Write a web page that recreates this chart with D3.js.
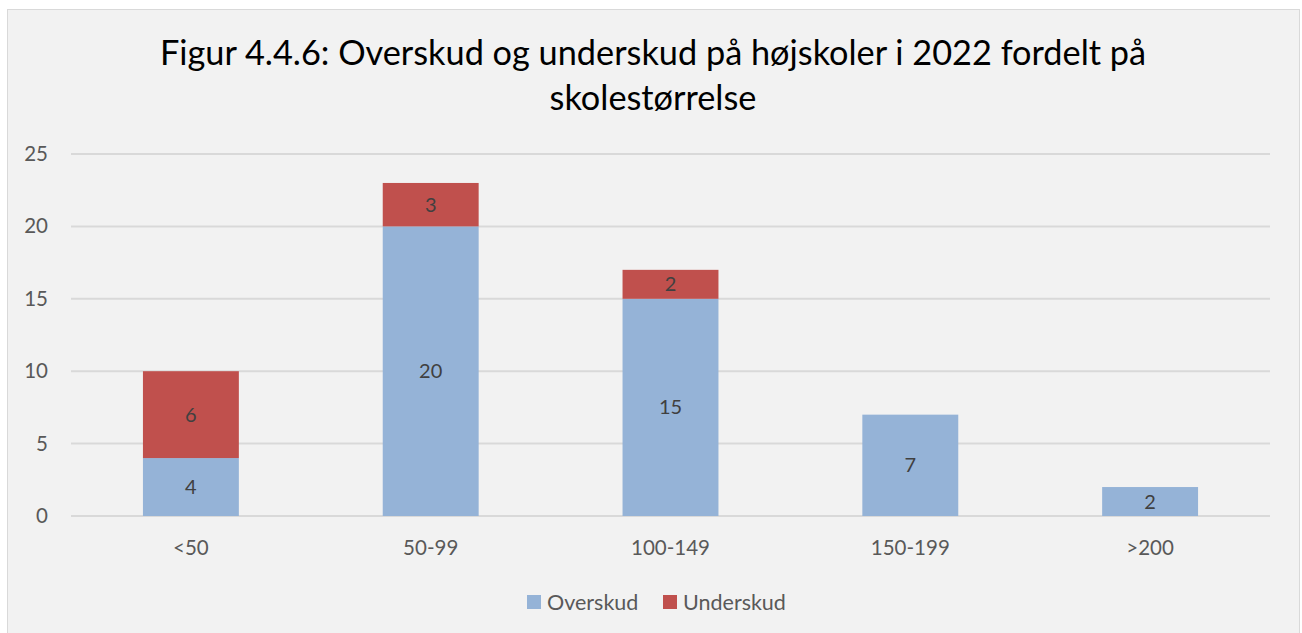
<!DOCTYPE html>
<html>
<head>
<meta charset="utf-8">
<script src="https://cdn.jsdelivr.net/npm/d3@7"></script>
<style>
  html, body { margin: 0; padding: 0; background: #ffffff; }
  svg { display: block; }
</style>
</head>
<body>
<svg id="chart" width="1302" height="633"></svg>
<script>
// Data
const categories = ["<50", "50-99", "100-149", "150-199", ">200"];
const overskud = [4, 20, 15, 7, 2];
const underskud = [6, 3, 2, 0, 0];
const seriesNames = ["Overskud", "Underskud"];
const yTicks = [0, 5, 10, 15, 20, 25];
const titleLines = ["Figur 4.4.6: Overskud og underskud på højskoler i 2022 fordelt på", "skolestørrelse"];

const colors = { Overskud: "#95b3d7", Underskud: "#c0504d" };
const font = "Lato, 'Open Sans', sans-serif";

const svg = d3.select("#chart");

// Chart frame
svg.append("rect")
  .attr("x", 7.5).attr("y", 9.5)
  .attr("width", 1292).attr("height", 630)
  .attr("fill", "#f2f2f2")
  .attr("stroke", "#d9d9d9").attr("stroke-width", 1);

// Title
svg.append("text")
  .attr("x", 653).attr("y", 65)
  .attr("text-anchor", "middle")
  .attr("font-family", font).attr("font-size", 34.3).attr("fill", "#000")
  .selectAll("tspan").data(titleLines).join("tspan")
  .attr("x", 653).attr("dy", (d, i) => i === 0 ? 0 : 45)
  .text(d => d);

const plot = { left: 71, right: 1270, top: 154, bottom: 516 };

const x = d3.scaleBand().domain(categories)
  .range([plot.left, plot.right]).paddingInner(0.6).paddingOuter(0.3);
const y = d3.scaleLinear().domain([0, 25]).range([plot.bottom, plot.top]);

// Gridlines
svg.append("g").selectAll("line").data(yTicks).join("line")
  .attr("x1", plot.left).attr("x2", plot.right)
  .attr("y1", d => y(d)).attr("y2", d => y(d))
  .attr("stroke", "#d9d9d9").attr("stroke-width", 2);

// Y axis labels
const yAxis = d3.axisLeft(y).tickValues(yTicks).tickSize(0).tickPadding(0);
const yg = svg.append("g").attr("transform", `translate(${plot.left - 23},0)`).call(yAxis);
yg.select(".domain").remove();
yg.selectAll("text").attr("font-family", font).attr("font-size", 20.5).attr("fill", "#595959");

// X axis labels
const xAxis = d3.axisBottom(x).tickSize(0).tickPadding(0);
const xg = svg.append("g").attr("transform", `translate(0,${plot.bottom + 24})`).call(xAxis);
xg.select(".domain").remove();
xg.selectAll("text").attr("font-family", font).attr("font-size", 20.5).attr("fill", "#595959");

// Stacked bars
const rows = categories.map((c, i) => ({ cat: c, Overskud: overskud[i], Underskud: underskud[i] }));
const stack = d3.stack().keys(seriesNames)(rows);

const layers = svg.append("g").selectAll("g").data(stack).join("g")
  .attr("fill", d => colors[d.key]);

layers.selectAll("rect").data(d => d.filter(s => s[1] - s[0] > 0)).join("rect")
  .attr("x", d => x(d.data.cat))
  .attr("width", x.bandwidth())
  .attr("y", d => y(d[1]))
  .attr("height", d => y(d[0]) - y(d[1]));

// Value labels
layers.selectAll("text").data(d => d.filter(s => s[1] - s[0] > 0)).join("text")
  .attr("x", d => x(d.data.cat) + x.bandwidth() / 2)
  .attr("y", d => (y(d[0]) + y(d[1])) / 2)
  .attr("dy", "0.35em")
  .attr("text-anchor", "middle")
  .attr("font-family", font).attr("font-size", 20).attr("fill", "#404040")
  .text(d => d[1] - d[0]);

// Legend
const legendItems = [
  { name: "Overskud", x: 527 },
  { name: "Underskud", x: 663 }
];
const lg = svg.append("g").selectAll("g").data(legendItems).join("g")
  .attr("transform", d => `translate(${d.x},${595})`);
lg.append("rect").attr("width", 14).attr("height", 14).attr("fill", d => colors[d.name]);
lg.append("text").attr("x", 20).attr("y", 7).attr("dy", "0.35em")
  .attr("font-family", font).attr("font-size", 21.5).attr("fill", "#595959")
  .text(d => d.name);
</script>
</body>
</html>
